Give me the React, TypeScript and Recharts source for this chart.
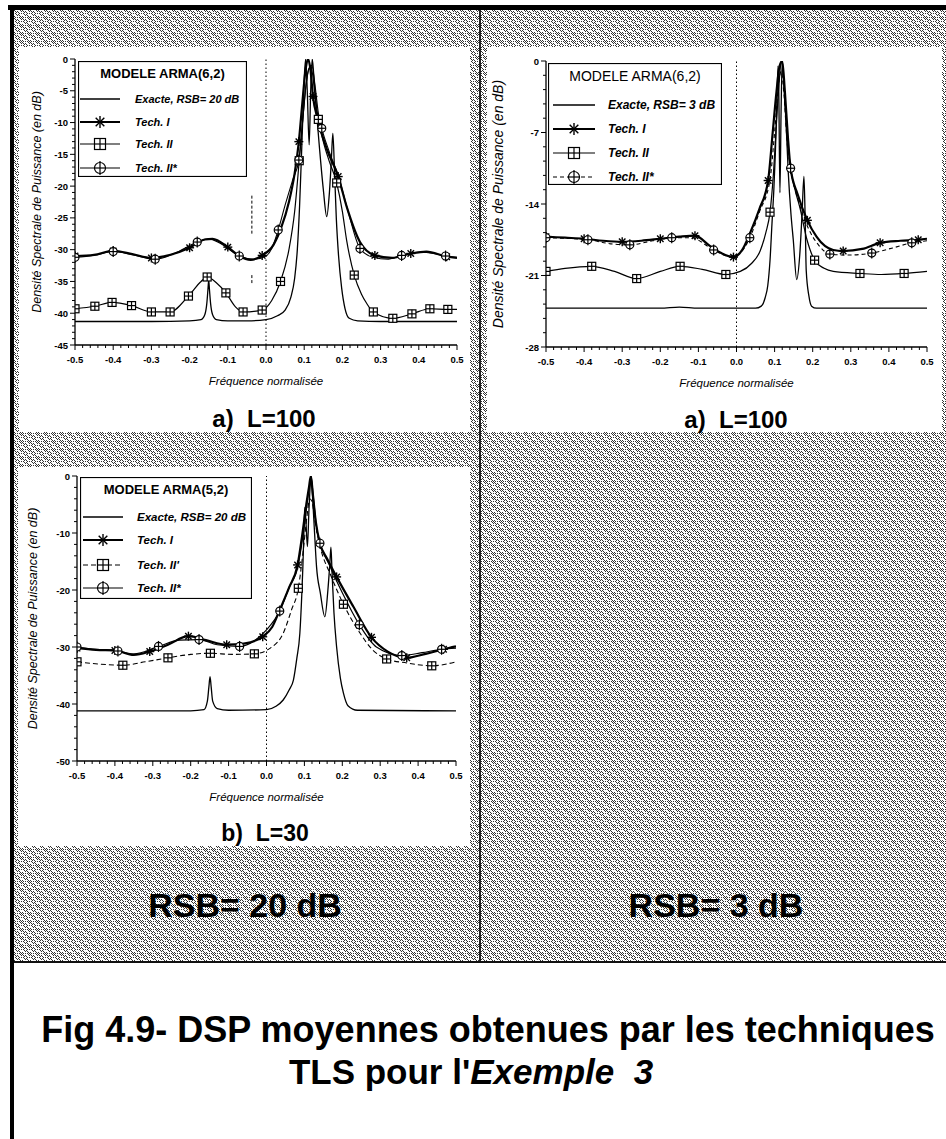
import React from "react";
import { Legend, Line, LineChart, ReferenceLine, XAxis, YAxis } from "recharts";

const SANS = '"Liberation Sans", Arial, Helvetica, sans-serif';

type Pt = [number, number];

// normalised frequency axis, shared by the three plots
const freqMajor = [-0.5, -0.4, -0.3, -0.2, -0.1, 0, 0.1, 0.2, 0.3, 0.4, 0.5];

// ---------- a) L=100, RSB = 20 dB, ARMA(6,2) ----------
const p1DbMajor = [0, -5, -10, -15, -20, -25, -30, -35, -40, -45];
const p1Exacte: Pt[] = [
  [-0.5, -41.3], [-0.4, -41.3], [-0.3, -41.3], [-0.2, -41.2], [-0.17, -41], [-0.16, -40.2],
  [-0.155, -38.5], [-0.152, -36.3], [-0.15, -34.8], [-0.148, -36.3], [-0.145, -38.5], [-0.14, -40.2],
  [-0.13, -41], [-0.1, -41.2], [-0.05, -41.2], [0, -41], [0.03, -40.4], [0.05, -39.5], [0.065, -37.5],
  [0.075, -34.5], [0.082, -30], [0.088, -23], [0.093, -15], [0.097, -8], [0.101, -2], [0.104, 0],
  [0.108, -5], [0.113, -13.5], [0.117, -5], [0.121, 0], [0.125, -2.5], [0.131, -7.5], [0.14, -14],
  [0.15, -20.5], [0.159, -24.8], [0.166, -21], [0.171, -16], [0.175, -11.7], [0.179, -17], [0.184, -25],
  [0.19, -31], [0.198, -36], [0.207, -39.3], [0.218, -40.8], [0.24, -41.2], [0.3, -41.3], [0.5, -41.3],
];
const p1TechI: Pt[] = [
  [-0.5, -31], [-0.45, -30.8], [-0.4, -30.2], [-0.35, -30.7], [-0.3, -31.3], [-0.25, -30.8], [-0.2, -29.7],
  [-0.16, -28.4], [-0.14, -28.3], [-0.1, -29.6], [-0.07, -31], [-0.04, -31.6], [-0.01, -30.9], [0.02, -29.2],
  [0.04, -26.5], [0.06, -22.5], [0.075, -18], [0.086, -13], [0.095, -7], [0.103, -2], [0.11, 0],
  [0.116, -1.5], [0.123, -5.9], [0.136, -9.6], [0.16, -14.3], [0.189, -18.5], [0.211, -23.2], [0.246, -28.8],
  [0.285, -30.9], [0.33, -31.3], [0.379, -30.6], [0.42, -30.3], [0.473, -31.1], [0.5, -31.3],
];
const p1TechIMarks = [-0.5, -0.4, -0.3, -0.2, -0.1, -0.01, 0.086, 0.123, 0.189, 0.285, 0.379, 0.473];
const p1TechII: Pt[] = [
  [-0.5, -39.3], [-0.448, -38.9], [-0.403, -38.3], [-0.352, -38.8], [-0.3, -39.8], [-0.251, -39.8],
  [-0.203, -37.3], [-0.17, -35], [-0.154, -34.3], [-0.13, -35.2], [-0.105, -36.8], [-0.08, -39],
  [-0.06, -39.8], [-0.01, -39.5], [0.015, -38], [0.038, -35], [0.06, -30], [0.075, -24], [0.087, -16],
  [0.097, -9], [0.106, -3.5], [0.114, -1.5], [0.12, -1.8], [0.127, -5], [0.137, -9.5], [0.15, -13],
  [0.165, -16], [0.185, -19.5], [0.2, -24], [0.211, -28.5], [0.231, -34], [0.25, -37], [0.263, -38.4],
  [0.281, -39.8], [0.332, -40.8], [0.382, -40.1], [0.429, -39.3], [0.476, -39.4], [0.5, -39.4],
];
const p1TechIIMarks = [
  -0.5, -0.448, -0.403, -0.352, -0.3, -0.251, -0.203, -0.154, -0.105, -0.06, -0.01, 0.038, 0.087,
  0.137, 0.185, 0.231, 0.281, 0.332, 0.382, 0.429, 0.476,
];
const p1TechIIs: Pt[] = [
  [-0.5, -31.2], [-0.45, -30.9], [-0.4, -30.3], [-0.35, -30.8], [-0.29, -31.5], [-0.24, -30.6], [-0.18, -28.8],
  [-0.15, -28.3], [-0.12, -29], [-0.07, -31], [-0.03, -31.5], [0, -31], [0.015, -29.8], [0.032, -26.9],
  [0.05, -23], [0.07, -19], [0.086, -15.9], [0.097, -9], [0.105, -4], [0.112, -1.5], [0.12, -1], [0.128, -4],
  [0.137, -8.5], [0.146, -10.9], [0.165, -14.5], [0.19, -18.5], [0.215, -24], [0.246, -29.8], [0.28, -31.2],
  [0.32, -31.5], [0.355, -30.9], [0.4, -30.4], [0.44, -30.6], [0.47, -31], [0.5, -31.2],
];
const p1TechIIsMarks = [-0.5, -0.4, -0.29, -0.18, -0.07, 0.032, 0.086, 0.146, 0.246, 0.355, 0.47];

// ---------- a) L=100, RSB = 3 dB, ARMA(6,2) ----------
const p2DbMajor = [0, -7, -14, -21, -28];
const p2Exacte: Pt[] = [
  [-0.5, -24.2], [-0.2, -24.2], [-0.15, -24.1], [-0.1, -24.2], [0, -24.2], [0.05, -24.2], [0.065, -24],
  [0.075, -23.2], [0.082, -22], [0.088, -19.5], [0.093, -16], [0.098, -12.6], [0.102, -9], [0.106, -4],
  [0.109, -0.5], [0.111, -3], [0.114, -12.9], [0.117, -5], [0.12, 0], [0.124, -2], [0.13, -6], [0.136, -11],
  [0.143, -15], [0.149, -17.5], [0.158, -21.4], [0.166, -19], [0.172, -15], [0.177, -11.3], [0.18, -15],
  [0.183, -20.5], [0.19, -23], [0.197, -24], [0.21, -24.2], [0.5, -24.2],
];
const p2TechI: Pt[] = [
  [-0.5, -17.2], [-0.45, -17.3], [-0.4, -17.4], [-0.35, -17.6], [-0.3, -17.7], [-0.25, -17.6], [-0.2, -17.4],
  [-0.15, -17.2], [-0.109, -17.1], [-0.07, -18.1], [-0.04, -18.8], [-0.008, -19.2], [0.015, -18.5],
  [0.035, -16.9], [0.06, -14.5], [0.083, -11.7], [0.095, -7], [0.105, -3], [0.113, -0.5], [0.12, 0],
  [0.127, -3], [0.135, -7.5], [0.142, -10.5], [0.16, -13], [0.186, -15.6], [0.21, -17.2], [0.254, -18.5],
  [0.28, -18.6], [0.33, -18.4], [0.377, -17.8], [0.43, -17.6], [0.477, -17.5], [0.5, -17.4],
];
const p2TechIMarks = [-0.5, -0.4, -0.3, -0.2, -0.109, -0.008, 0.083, 0.142, 0.186, 0.28, 0.377, 0.477];
const p2TechII: Pt[] = [
  [-0.5, -20.6], [-0.45, -20.3], [-0.38, -20.1], [-0.32, -20.6], [-0.262, -21.3], [-0.2, -20.6],
  [-0.148, -20.1], [-0.09, -20.4], [-0.028, -20.9], [0.01, -20.6], [0.04, -19.8], [0.062, -18.6],
  [0.077, -16.8], [0.088, -14.8], [0.097, -11], [0.105, -6], [0.112, -2], [0.118, 0], [0.124, -2],
  [0.132, -7], [0.142, -10.5], [0.155, -12.8], [0.166, -14.3], [0.185, -17.5], [0.205, -19.5], [0.23, -20.3],
  [0.254, -20.6], [0.324, -20.8], [0.38, -20.9], [0.44, -20.8], [0.5, -20.6],
];
const p2TechIIMarks = [-0.5, -0.38, -0.262, -0.148, -0.028, 0.088, 0.205, 0.324, 0.44];
const p2TechIIs: Pt[] = [
  [-0.5, -17.3], [-0.39, -17.5], [-0.33, -17.9], [-0.28, -18], [-0.22, -17.6], [-0.17, -17.3], [-0.12, -17.3],
  [-0.06, -18.5], [-0.02, -19.1], [0.005, -18.9], [0.035, -17.3], [0.06, -14.8], [0.088, -11.6], [0.1, -7],
  [0.11, -2.5], [0.117, -1], [0.124, -3], [0.133, -8], [0.142, -10.5], [0.165, -14], [0.19, -16.5],
  [0.215, -18], [0.245, -18.9], [0.29, -19], [0.355, -18.8], [0.41, -18.3], [0.46, -17.8], [0.5, -17.6],
];
const p2TechIIsMarks = [-0.5, -0.39, -0.28, -0.17, -0.06, 0.035, 0.142, 0.245, 0.355, 0.46];

// ---------- b) L=30, RSB = 20 dB, ARMA(5,2) ----------
const p3DbMajor = [0, -10, -20, -30, -40, -50];
const p3Exacte: Pt[] = [
  [-0.5, -41.2], [-0.2, -41.2], [-0.165, -41], [-0.156, -39.5], [-0.152, -37], [-0.149, -35.2],
  [-0.146, -37], [-0.142, -39.5], [-0.13, -40.8], [-0.1, -41.1], [0, -41], [0.025, -40.4], [0.044, -39.3],
  [0.06, -37.5], [0.071, -35.8], [0.08, -32], [0.088, -27.6], [0.093, -21], [0.096, -15.9], [0.099, -9],
  [0.101, -5.5], [0.104, -8], [0.108, -12.4], [0.112, -6], [0.116, -1], [0.118, 0], [0.121, -3],
  [0.126, -9], [0.132, -15.9], [0.142, -20.5], [0.154, -24.7], [0.162, -20], [0.167, -15.5], [0.17, -12.5],
  [0.173, -17], [0.178, -24], [0.185, -30], [0.195, -35.5], [0.203, -38.1], [0.215, -40.3], [0.24, -41.1],
  [0.5, -41.2],
];
const p3TechI: Pt[] = [
  [-0.5, -30.2], [-0.45, -30.5], [-0.4, -30.6], [-0.35, -31.4], [-0.308, -30.8], [-0.26, -29.6],
  [-0.206, -28.1], [-0.16, -28.8], [-0.105, -29.6], [-0.06, -29.4], [-0.01, -28.2], [0.015, -26.5],
  [0.035, -23.5], [0.06, -19.5], [0.082, -15.6], [0.095, -10], [0.105, -5], [0.112, -2], [0.117, 0],
  [0.122, -3], [0.13, -8], [0.141, -11.8], [0.16, -14.5], [0.185, -17.7], [0.229, -22.9], [0.277, -28.3],
  [0.32, -30.8], [0.37, -31.9], [0.42, -31.2], [0.467, -30.4], [0.5, -29.9],
];
const p3TechIMarks = [-0.5, -0.4, -0.308, -0.206, -0.105, -0.01, 0.082, 0.185, 0.277, 0.37, 0.467];
const p3TechIIp: Pt[] = [
  [-0.5, -32.6], [-0.44, -33], [-0.379, -33.2], [-0.32, -32.6], [-0.26, -31.9], [-0.2, -31.3],
  [-0.148, -31.1], [-0.09, -31.3], [-0.032, -31.2], [0.01, -30.2], [0.044, -27.6], [0.066, -23.5],
  [0.084, -19.7], [0.097, -13], [0.107, -7], [0.114, -4], [0.12, -4.5], [0.128, -8], [0.14, -12],
  [0.17, -17.5], [0.203, -22.5], [0.247, -27.6], [0.28, -30.5], [0.317, -32.1], [0.37, -32.8],
  [0.436, -33.3], [0.5, -32.6],
];
const p3TechIIpMarks = [-0.5, -0.379, -0.26, -0.148, -0.032, 0.084, 0.203, 0.317, 0.436];
const p3TechIIs: Pt[] = [
  [-0.5, -30], [-0.45, -30.4], [-0.392, -30.7], [-0.35, -31.2], [-0.285, -29.9], [-0.23, -28.8],
  [-0.178, -28.7], [-0.13, -29.6], [-0.071, -29.9], [-0.03, -28.8], [0, -27], [0.035, -23.7], [0.06, -19.5],
  [0.083, -15.8], [0.095, -11], [0.105, -6], [0.113, -2], [0.118, -0.5], [0.124, -4], [0.132, -9],
  [0.141, -11.8], [0.165, -15.5], [0.2, -20.5], [0.245, -26.1], [0.29, -30], [0.357, -31.5], [0.41, -31],
  [0.462, -30.4], [0.5, -30.2],
];
const p3TechIIsMarks = [-0.5, -0.392, -0.285, -0.178, -0.071, 0.035, 0.141, 0.245, 0.357, 0.462];

// ---------- helpers ----------
const range = (from: number, to: number, step: number) => {
  const n = Math.round((to - from) / step);
  const out: number[] = [];
  for (let i = 0; i <= n; i++) out.push(Math.round((from + i * step) * 1000) / 1000);
  return out;
};
const rows = (pts: Pt[]) => pts.map(([f, v]) => ({ f, v }));
const near = (list: number[], v: number) => list.some((m) => Math.abs(m - v) < 1e-6);

type MarkerKind = "none" | "star" | "square" | "circle";

function Marker({ kind, cx, cy, s }: { kind: MarkerKind; cx: number; cy: number; s: number }) {
  if (kind === "star") {
    const d = s * 0.72;
    return (
      <g stroke="#000" strokeWidth={1.4}>
        <line x1={cx} y1={cy - s} x2={cx} y2={cy + s} />
        <line x1={cx - d} y1={cy - d} x2={cx + d} y2={cy + d} />
        <line x1={cx - d} y1={cy + d} x2={cx + d} y2={cy - d} />
        <line x1={cx - s} y1={cy} x2={cx + s} y2={cy} />
      </g>
    );
  }
  if (kind === "square") {
    return (
      <g stroke="#000" strokeWidth={1.2}>
        <rect x={cx - s} y={cy - s} width={2 * s} height={2 * s} fill="#fff" />
        <line x1={cx} y1={cy - s} x2={cx} y2={cy + s} />
        <line x1={cx - s} y1={cy} x2={cx + s} y2={cy} />
      </g>
    );
  }
  if (kind === "circle") {
    return (
      <g stroke="#000" strokeWidth={1.2}>
        <circle cx={cx} cy={cy} r={s} fill="#fff" />
        <line x1={cx} y1={cy - s - 1.5} x2={cx} y2={cy + s + 1.5} />
        <line x1={cx - s} y1={cy} x2={cx + s} y2={cy} />
      </g>
    );
  }
  return null;
}

type Series = {
  name: string;
  pts: Pt[];
  marks: number[];
  marker: MarkerKind;
  width: number;
  dash?: string;
};

type LegendGeo = {
  dx: number; dy: number; w: number; h: number;
  titleY: number; titleSize: number; titleWeight: number;
  rows: number[]; lineX: [number, number]; textX: number; textSize: number; textWeight: number;
};

type PanelCfg = {
  left: number; top: number;
  axisW: number; marginTop: number; plotW: number; plotH: number; right: number;
  dbMajor: number[]; dbStep: number;
  title: string;
  series: Series[];
  legend: LegendGeo;
  yLabelX: number; yLabelSize: number;
  stray?: [number, number, number][];
};

const freqTicks = range(-0.5, 0.5, 0.02);

function makeTick(side: "bottom" | "top" | "left" | "right", majors: number[]) {
  return (p: any) => {
    const v = p.payload.value;
    const major = near(majors, v);
    const len = major ? 5 : 3;
    const { x, y } = p;
    const k = `${side}-${v}`;
    if (side === "bottom") {
      return (
        <g key={k}>
          <line x1={x} y1={y} x2={x} y2={y + len} stroke="#000" />
          {major && (
            <text x={x} y={y + 18} textAnchor="middle" fontSize={9.5} fontWeight="bold" fontFamily={SANS} fill="#000">
              {v === 0 ? "0.0" : v.toFixed(1)}
            </text>
          )}
        </g>
      );
    }
    if (side === "top") return <line key={k} x1={x} y1={y} x2={x} y2={y + len} stroke="#000" />;
    if (side === "left") {
      return (
        <g key={k}>
          <line x1={x} y1={y} x2={x - len} y2={y} stroke="#000" />
          {major && (
            <text x={x - 7} y={y + 3.5} textAnchor="end" fontSize={9.5} fontWeight="bold" fontFamily={SANS} fill="#000">
              {String(v)}
            </text>
          )}
        </g>
      );
    }
    return <line key={k} x1={x} y1={y} x2={x - len} y2={y} stroke="#000" />;
  };
}

function LegendBox({ g, title, series }: { g: LegendGeo; title: string; series: Series[] }) {
  const mid = (g.lineX[0] + g.lineX[1]) / 2;
  return (
    <svg width={g.w} height={g.h} style={{ display: "block" }}>
      <rect x={0.5} y={0.5} width={g.w - 1} height={g.h - 1} fill="#fff" stroke="#000" strokeWidth={1.2} />
      <text x={g.w / 2} y={g.titleY} textAnchor="middle" dominantBaseline="central" fontFamily={SANS}
        fontSize={g.titleSize} fontWeight={g.titleWeight} fill="#000">
        {title}
      </text>
      {series.map((s, i) => (
        <g key={s.name}>
          <line x1={g.lineX[0]} y1={g.rows[i]} x2={g.lineX[1]} y2={g.rows[i]} stroke="#000"
            strokeWidth={s.width} strokeDasharray={s.dash} />
          <Marker kind={s.marker} cx={mid} cy={g.rows[i]} s={s.marker === "star" ? 6 : 5.5} />
          <text x={g.textX} y={g.rows[i]} dominantBaseline="central" fontFamily={SANS} fontSize={g.textSize}
            fontStyle="italic" fontWeight={g.textWeight} fill="#000">
            {s.name}
          </text>
        </g>
      ))}
    </svg>
  );
}

function Panel({ cfg }: { cfg: PanelCfg }) {
  const width = cfg.axisW + cfg.plotW + cfg.right;
  const height = cfg.marginTop + cfg.plotH + 50;
  const yMin = cfg.dbMajor[cfg.dbMajor.length - 1];
  const dbTicks = range(yMin, 0, cfg.dbStep);
  const yLabel = (p: any) => {
    const vb = p.viewBox;
    const cx = vb.x + cfg.yLabelX;
    const cy = vb.y + vb.height / 2;
    return (
      <text x={cx} y={cy} transform={`rotate(-90 ${cx} ${cy})`} textAnchor="middle" dominantBaseline="central"
        fontFamily={SANS} fontSize={cfg.yLabelSize} fontStyle="italic" fill="#000">
        {"Densité Spectrale de Puissance  (en dB)"}
      </text>
    );
  };
  const xLabel = (p: any) => {
    const vb = p.viewBox;
    return (
      <text x={vb.x + vb.width / 2} y={vb.y + 40} textAnchor="middle" fontFamily={SANS} fontSize={11.5}
        fontStyle="italic" fill="#000">
        Fréquence normalisée
      </text>
    );
  };
  return (
    <div style={{ position: "absolute", left: cfg.left, top: cfg.top }}>
      <LineChart width={width} height={height} margin={{ top: cfg.marginTop, right: cfg.right, bottom: 4, left: 0 }}>
        <XAxis dataKey="f" type="number" domain={[-0.5, 0.5]} ticks={freqTicks} interval={0} allowDataOverflow
          height={46} tickLine={false} tickSize={0} tickMargin={0} axisLine={{ stroke: "#000", strokeWidth: 1.3 }}
          tick={makeTick("bottom", freqMajor)} label={xLabel} />
        <XAxis xAxisId="top" orientation="top" type="number" domain={[-0.5, 0.5]} ticks={freqTicks} interval={0}
          allowDataOverflow height={0} tickLine={false} tickSize={0} tickMargin={0}
          axisLine={{ stroke: "#000", strokeWidth: 1.3 }} tick={makeTick("top", freqMajor)} />
        <YAxis type="number" domain={[yMin, 0]} ticks={dbTicks} interval={0} allowDataOverflow width={cfg.axisW}
          tickLine={false} tickSize={0} tickMargin={0} axisLine={{ stroke: "#000", strokeWidth: 1.3 }}
          tick={makeTick("left", cfg.dbMajor)} label={yLabel} />
        <YAxis yAxisId="right" orientation="right" type="number" domain={[yMin, 0]} ticks={dbTicks} interval={0}
          allowDataOverflow width={0} tickLine={false} tickSize={0} tickMargin={0}
          axisLine={{ stroke: "#000", strokeWidth: 1.3 }} tick={makeTick("right", cfg.dbMajor)} />
        <ReferenceLine x={0} stroke="#000" strokeWidth={1} strokeDasharray="1.5 2.5" />
        {(cfg.stray ?? []).map(([f, a, b], i) => (
          <ReferenceLine key={`s${i}`} segment={[{ x: f, y: a }, { x: f, y: b }]} stroke="#000"
            strokeWidth={1} strokeDasharray="3 2" />
        ))}
        {cfg.series.map((s) => (
          <Line key={s.name} data={rows(s.pts)} dataKey="v" type="monotone" stroke="#000" strokeWidth={s.width}
            strokeDasharray={s.dash} isAnimationActive={false} activeDot={false}
            dot={(p: any) =>
              near(s.marks, p.payload.f) ? (
                <Marker key={`${s.name}-${p.index}`} kind={s.marker} cx={p.cx} cy={p.cy} s={s.marker === "star" ? 4.5 : 4} />
              ) : (
                <g key={`${s.name}-${p.index}`} />
              )
            } />
        ))}
        <Legend layout="horizontal" verticalAlign="middle" align="center"
          wrapperStyle={{ left: cfg.axisW + cfg.legend.dx, top: cfg.marginTop + cfg.legend.dy, width: cfg.legend.w, height: cfg.legend.h }}
          content={() => <LegendBox g={cfg.legend} title={cfg.title} series={cfg.series} />} />
      </LineChart>
    </div>
  );
}

const panel1: PanelCfg = {
  left: 20, top: 47, axisW: 55, marginTop: 12, plotW: 382, plotH: 286, right: 13,
  dbMajor: p1DbMajor, dbStep: 1, title: "MODELE ARMA(6,2)",
  series: [
    { name: "Exacte, RSB= 20 dB", pts: p1Exacte, marks: [], marker: "none", width: 1.3 },
    { name: "Tech. I", pts: p1TechI, marks: p1TechIMarks, marker: "star", width: 2.2 },
    { name: "Tech. II", pts: p1TechII, marks: p1TechIIMarks, marker: "square", width: 1.2 },
    { name: "Tech. II*", pts: p1TechIIs, marks: p1TechIIsMarks, marker: "circle", width: 1.1 },
  ],
  legend: {
    dx: 3, dy: 2, w: 169, h: 116, titleY: 12, titleSize: 13, titleWeight: 700,
    rows: [38, 61, 83, 107], lineX: [2, 42], textX: 57, textSize: 11, textWeight: 700,
  },
  yLabelX: 17, yLabelSize: 12.5,
  stray: [[-0.037, -21.5, -27.5], [-0.037, -34, -35.5]],
};

const panel2: PanelCfg = {
  left: 487, top: 47, axisW: 59, marginTop: 14, plotW: 381, plotH: 286, right: 15,
  dbMajor: p2DbMajor, dbStep: 1.4, title: "MODELE ARMA(6,2)",
  series: [
    { name: "Exacte, RSB= 3 dB", pts: p2Exacte, marks: [], marker: "none", width: 1.3 },
    { name: "Tech. I", pts: p2TechI, marks: p2TechIMarks, marker: "star", width: 2.2 },
    { name: "Tech. II", pts: p2TechII, marks: p2TechIIMarks, marker: "square", width: 1.2 },
    { name: "Tech. II*", pts: p2TechIIs, marks: p2TechIIsMarks, marker: "circle", width: 1.1, dash: "4 3" },
  ],
  legend: {
    dx: 2, dy: 2, w: 174, h: 122, titleY: 13, titleSize: 14, titleWeight: 400,
    rows: [42, 66, 90, 114], lineX: [5, 47], textX: 60, textSize: 12, textWeight: 700,
  },
  yLabelX: 11, yLabelSize: 14,
};

const panel3: PanelCfg = {
  left: 18, top: 467, axisW: 59, marginTop: 9, plotW: 379, plotH: 285, right: 14,
  dbMajor: p3DbMajor, dbStep: 2, title: "MODELE ARMA(5,2)",
  series: [
    { name: "Exacte, RSB= 20 dB", pts: p3Exacte, marks: [], marker: "none", width: 1.3 },
    { name: "Tech. I", pts: p3TechI, marks: p3TechIMarks, marker: "star", width: 2.2 },
    { name: "Tech. II'", pts: p3TechIIp, marks: p3TechIIpMarks, marker: "square", width: 1.1, dash: "5 3" },
    { name: "Tech. II*", pts: p3TechIIs, marks: p3TechIIsMarks, marker: "circle", width: 1.2 },
  ],
  legend: {
    dx: 3, dy: 1, w: 172, h: 122, titleY: 12, titleSize: 13, titleWeight: 700,
    rows: [40, 63, 88, 111], lineX: [3, 43], textX: 57, textSize: 11.5, textWeight: 700,
  },
  yLabelX: 15, yLabelSize: 12.5,
};

// dotted cross-hatch used for the background field
const stippleDots: [number, number][] = [
  [0, 0], [2, 2], [4, 4], [6, 6], [0, 6], [2, 4], [4, 2], [6, 0],
  [1, 3], [5, 3], [3, 7], [7, 7], [1, 7], [5, 7], [3, 1], [7, 1],
  [1, 1], [5, 5], [3, 5], [7, 3],
];
const stippleSvg =
  `<svg xmlns='http://www.w3.org/2000/svg' width='8' height='8' shape-rendering='crispEdges'>` +
  `<path fill='#333' d='${stippleDots.map(([x, y]) => `M${x} ${y}h1v1h-1z`).join("")}'/></svg>`;
const STIPPLE = `url("data:image/svg+xml,${encodeURIComponent(stippleSvg)}")`;

const abs = (l: number, t: number, w: number, h: number, extra: React.CSSProperties = {}): React.CSSProperties => ({
  position: "absolute", left: l, top: t, width: w, height: h, ...extra,
});

function Caption({ x, y, w, size, children }: { x: number; y: number; w: number; size: number; children: React.ReactNode }) {
  return (
    <div style={{ ...abs(x - w / 2, y - size * 0.6, w, size * 1.2), textAlign: "center", fontSize: size,
      lineHeight: `${size * 1.2}px`, fontWeight: 700, whiteSpace: "pre", color: "#000" }}>
      {children}
    </div>
  );
}

export default function App() {
  return (
    <div style={{ ...abs(0, 0, 946, 1139), background: "#fff", overflow: "hidden", fontFamily: SANS }}>
      <div style={abs(14, 10, 932, 952, { backgroundImage: STIPPLE })} />
      <div style={abs(8, 5, 938, 5, { background: "#000" })} />
      <div style={abs(10, 5, 4, 1134, { background: "#000" })} />
      <div style={abs(479, 10, 2, 952, { background: "#222" })} />
      <div style={abs(14, 961, 932, 2, { background: "#111" })} />

      <div style={abs(19, 47, 451, 385, { background: "#fff" })} />
      <div style={abs(487, 47, 455, 385, { background: "#fff" })} />
      <div style={abs(18, 467, 452, 379, { background: "#fff" })} />

      <Panel cfg={panel1} />
      <Panel cfg={panel2} />
      <Panel cfg={panel3} />

      <Caption x={264} y={419} w={200} size={24}>{"a)  L=100"}</Caption>
      <Caption x={736} y={420} w={200} size={24}>{"a)  L=100"}</Caption>
      <Caption x={265} y={834} w={200} size={23}>{"b)  L=30"}</Caption>
      <Caption x={245} y={905} w={300} size={34}>{"RSB= 20 dB"}</Caption>
      <Caption x={716} y={905} w={300} size={34}>{"RSB= 3 dB"}</Caption>

      <Caption x={488} y={1030} w={940} size={36}>{"Fig 4.9- DSP moyennes obtenues par les techniques"}</Caption>
      <Caption x={471} y={1072} w={600} size={35}>
        {"TLS pour l'"}
        <span style={{ fontStyle: "italic" }}>{"Exemple  3"}</span>
      </Caption>
    </div>
  );
}
